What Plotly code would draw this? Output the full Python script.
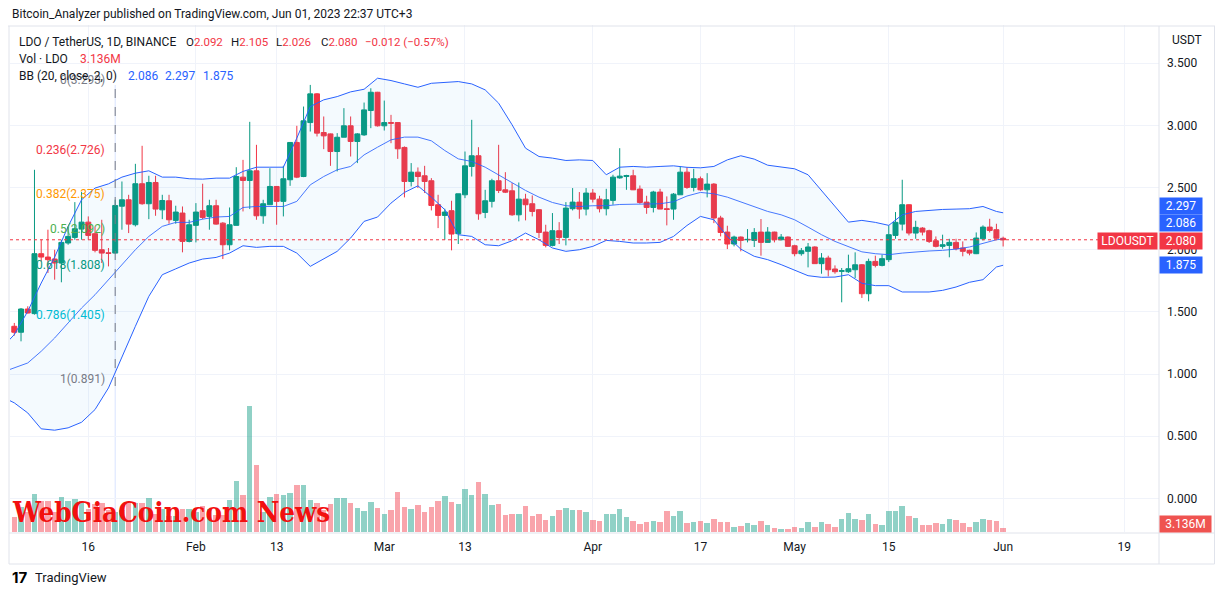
import pandas as pd
import plotly.graph_objects as go

# ---------------- data ----------------
dates = pd.date_range("2023-01-05", "2023-06-01", freq="D")

opens = [1.384, 1.336, 1.523, 1.486, 1.968, 1.941, 1.925, 1.893, 2.054, 2.099,
         2.166, 2.222, 2.129, 2.000, 1.975, 1.973, 2.350, 2.402, 2.201, 2.531,
         2.370, 2.541, 2.321, 2.394, 2.236, 2.295, 2.067, 2.196, 2.314, 2.268,
         2.354, 2.214, 2.040, 2.196, 2.584, 2.557, 2.635, 2.273, 2.362, 2.509,
         2.389, 2.563, 2.863, 2.589, 3.023, 3.254, 2.943, 2.932, 2.790, 2.905,
         2.997, 2.871, 2.924, 3.120, 3.267, 2.997, 3.023, 3.023, 2.823, 2.549,
         2.624, 2.595, 2.555, 2.362, 2.276, 2.314, 2.129, 2.442, 2.670, 2.756,
         2.300, 2.389, 2.555, 2.482, 2.474, 2.281, 2.407, 2.370, 2.322, 2.142,
         2.035, 2.153, 2.099, 2.330, 2.383, 2.327, 2.456, 2.407, 2.330, 2.397,
         2.578, 2.589, 2.595, 2.488, 2.383, 2.340, 2.464, 2.330, 2.327, 2.442,
         2.624, 2.501, 2.571, 2.482, 2.528, 2.255, 2.142, 2.046, 2.102, 2.080,
         2.075, 2.142, 2.059, 2.142, 2.080, 2.102, 2.032, 1.968, 1.987, 2.022,
         1.888, 1.933, 1.845, 1.826, 1.823, 1.839, 1.879, 1.646, 1.906, 1.874,
         1.920, 2.115, 2.206, 2.362, 2.134, 2.174, 2.153, 2.072, 2.027, 2.035,
         2.059, 2.014, 1.995, 1.968, 2.088, 2.182, 2.161, 2.092]
highs = [1.411, 1.531, 1.545, 2.643, 2.080, 2.161, 2.000, 2.080, 2.187, 2.383,
         2.464, 2.268, 2.187, 2.241, 2.014, 2.402, 2.549, 2.442, 2.691, 2.836,
         2.595, 2.595, 2.442, 2.442, 2.354, 2.348, 2.241, 2.375, 2.531, 2.402,
         2.402, 2.222, 2.340, 2.664, 2.723, 3.029, 2.844, 2.402, 2.656, 2.512,
         2.675, 2.866, 2.997, 3.152, 3.326, 3.260, 3.072, 2.935, 2.938, 3.139,
         3.072, 2.938, 3.184, 3.299, 3.270, 3.200, 3.085, 3.025, 2.831, 2.697,
         2.662, 2.675, 2.576, 2.442, 2.330, 2.394, 2.450, 2.790, 3.045, 2.825,
         2.482, 2.571, 2.844, 2.624, 2.536, 2.541, 2.450, 2.437, 2.325, 2.201,
         2.295, 2.222, 2.383, 2.496, 2.464, 2.496, 2.488, 2.434, 2.490, 2.603,
         2.817, 2.603, 2.643, 2.517, 2.434, 2.474, 2.490, 2.429, 2.456, 2.670,
         2.662, 2.651, 2.589, 2.616, 2.536, 2.273, 2.193, 2.113, 2.107, 2.166,
         2.174, 2.247, 2.182, 2.145, 2.126, 2.107, 2.040, 2.014, 2.054, 2.027,
         1.973, 1.952, 1.874, 1.853, 1.960, 1.979, 1.885, 1.928, 1.952, 1.960,
         2.196, 2.303, 2.563, 2.365, 2.233, 2.182, 2.161, 2.107, 2.121, 2.088,
         2.088, 2.067, 2.000, 2.139, 2.196, 2.249, 2.209, 2.105]
lows = [1.309, 1.263, 1.486, 1.478, 1.906, 1.813, 1.759, 1.738, 2.040, 2.080,
        2.080, 2.080, 1.979, 1.893, 1.866, 1.968, 2.161, 2.134, 2.187, 2.362,
        2.246, 2.273, 2.246, 2.209, 2.209, 1.979, 2.059, 2.059, 2.246, 2.161,
        2.201, 1.925, 1.995, 2.196, 2.308, 2.327, 2.241, 2.209, 2.362, 2.201,
        2.268, 2.514, 2.576, 2.584, 2.951, 2.911, 2.809, 2.675, 2.630, 2.905,
        2.750, 2.697, 2.916, 2.978, 2.991, 2.959, 2.857, 2.731, 2.421, 2.509,
        2.496, 2.456, 2.316, 2.174, 2.080, 1.995, 2.046, 2.415, 2.589, 2.241,
        2.254, 2.340, 2.456, 2.456, 2.273, 2.228, 2.236, 2.268, 2.094, 2.019,
        2.027, 2.046, 2.035, 2.316, 2.249, 2.276, 2.380, 2.300, 2.276, 2.362,
        2.571, 2.482, 2.480, 2.370, 2.289, 2.300, 2.327, 2.196, 2.241, 2.442,
        2.490, 2.469, 2.474, 2.421, 2.214, 2.107, 2.005, 2.027, 1.987, 2.059,
        2.022, 1.952, 2.059, 2.059, 2.075, 2.022, 1.947, 1.952, 1.858, 1.888,
        1.807, 1.786, 1.807, 1.577, 1.813, 1.772, 1.612, 1.585, 1.858, 1.866,
        1.901, 2.088, 2.155, 2.115, 2.088, 2.115, 2.054, 2.019, 2.008, 1.939,
        1.995, 1.947, 1.955, 1.965, 2.075, 2.139, 2.088, 2.026]
closes = [1.336, 1.523, 1.491, 1.968, 1.941, 1.920, 1.893, 2.059, 2.107, 2.169,
          2.222, 2.115, 1.995, 1.973, 1.971, 2.356, 2.402, 2.206, 2.531, 2.370,
          2.541, 2.327, 2.396, 2.241, 2.303, 2.067, 2.201, 2.303, 2.260, 2.354,
          2.206, 2.040, 2.201, 2.589, 2.557, 2.635, 2.273, 2.370, 2.509, 2.389,
          2.571, 2.863, 2.584, 3.037, 3.254, 2.938, 2.916, 2.790, 2.905, 2.997,
          2.871, 2.932, 3.125, 3.267, 2.997, 3.023, 3.018, 2.812, 2.549, 2.624,
          2.589, 2.549, 2.356, 2.276, 2.303, 2.126, 2.450, 2.675, 2.756, 2.289,
          2.394, 2.555, 2.477, 2.463, 2.281, 2.407, 2.362, 2.308, 2.139, 2.035,
          2.153, 2.099, 2.335, 2.383, 2.327, 2.456, 2.407, 2.330, 2.402, 2.584,
          2.592, 2.597, 2.482, 2.380, 2.340, 2.464, 2.327, 2.324, 2.447, 2.624,
          2.501, 2.571, 2.482, 2.528, 2.255, 2.139, 2.046, 2.102, 2.075, 2.083,
          2.139, 2.059, 2.142, 2.080, 2.102, 2.027, 1.968, 1.992, 2.022, 1.888,
          1.933, 1.839, 1.823, 1.831, 1.847, 1.879, 1.646, 1.906, 1.874, 1.928,
          2.121, 2.220, 2.362, 2.134, 2.180, 2.142, 2.067, 2.027, 2.040, 2.059,
          2.008, 1.987, 1.973, 2.094, 2.182, 2.155, 2.092, 2.080]
volumes_m = [11.8, 19.6, 15.7, 29.8, 24.3, 24.3, 15.7, 27.4, 24.3, 25.9,
             24.3, 18.0, 22.0, 22.7, 17.2, 15.7, 17.2, 23.5, 22.7, 22.7,
             26.7, 14.1, 18.0, 12.5, 12.5, 18.0, 18.0, 15.7, 20.4, 18.0,
             13.3, 13.3, 25.1, 40.0, 29.0, 98.8, 52.5, 15.7, 27.4, 29.8,
             29.0, 30.6, 36.8, 36.8, 25.1, 22.7, 17.2, 22.0, 26.7, 26.7,
             22.7, 18.8, 16.5, 23.5, 18.8, 14.1, 17.2, 31.4, 19.6, 18.0,
             21.2, 15.7, 19.6, 24.3, 28.2, 23.5, 22.0, 33.7, 29.0, 39.2,
             29.8, 21.2, 22.0, 13.3, 14.1, 14.1, 20.4, 12.5, 14.1, 9.4,
             12.5, 17.2, 18.8, 17.2, 17.2, 15.7, 9.4, 8.6, 14.1, 14.1,
             18.0, 11.8, 8.6, 6.3, 7.8, 8.6, 7.8, 16.5, 12.5, 16.5,
             7.1, 7.8, 8.6, 7.1, 10.2, 7.8, 7.8, 3.9, 4.7, 7.1,
             5.5, 8.6, 5.5, 3.1, 2.4, 2.4, 3.9, 3.1, 7.8, 3.9,
             7.8, 6.3, 3.9, 10.2, 14.9, 10.2, 9.4, 14.1, 6.3, 5.5,
             16.5, 16.5, 20.4, 12.5, 11.0, 5.5, 5.5, 7.1, 6.3, 10.2,
             9.4, 7.1, 3.9, 7.8, 10.2, 9.4, 8.6, 3.136]

# Bollinger Bands (20, close, 2), every second session
bb_dates = ([pd.Timestamp("2023-01-04")]
            + list(pd.date_range("2023-01-05", "2023-05-31", freq="2D"))
            + [pd.Timestamp("2023-06-01")])
bb_upper = [1.260, 1.317, 1.505, 1.732, 1.941, 2.187, 2.402, 2.496, 2.530, 2.584,
            2.616, 2.635, 2.584, 2.584, 2.571, 2.568, 2.576, 2.576, 2.630, 2.664,
            2.664, 2.664, 2.898, 3.152, 3.206, 3.232, 3.270, 3.291, 3.380, 3.361,
            3.334, 3.307, 3.339, 3.345, 3.353, 3.334, 3.286, 3.179, 3.005, 2.817,
            2.750, 2.737, 2.718, 2.723, 2.718, 2.603, 2.664, 2.670, 2.664, 2.670,
            2.675, 2.663, 2.659, 2.670, 2.723, 2.756, 2.729, 2.680, 2.664, 2.651,
            2.603, 2.477, 2.348, 2.222, 2.236, 2.220, 2.196, 2.281, 2.308, 2.319,
            2.324, 2.327, 2.330, 2.348, 2.308, 2.297]
bb_basis = [1.030, 1.049, 1.089, 1.183, 1.290, 1.411, 1.531, 1.638, 1.759, 1.880,
            2.000, 2.107, 2.188, 2.220, 2.220, 2.246, 2.263, 2.268, 2.340, 2.348,
            2.348, 2.348, 2.389, 2.522, 2.589, 2.643, 2.670, 2.763, 2.825, 2.884,
            2.906, 2.906, 2.876, 2.798, 2.731, 2.710, 2.664, 2.603, 2.536, 2.477,
            2.423, 2.380, 2.354, 2.348, 2.354, 2.354, 2.364, 2.367, 2.370, 2.370,
            2.386, 2.432, 2.461, 2.450, 2.423, 2.383, 2.343, 2.308, 2.281, 2.241,
            2.182, 2.121, 2.067, 2.022, 1.983, 1.968, 1.960, 1.973, 1.984, 1.990,
            1.995, 2.005, 2.022, 2.048, 2.080, 2.086]
bb_lower = [0.795, 0.768, 0.687, 0.559, 0.548, 0.567, 0.612, 0.714, 0.888, 1.143,
            1.384, 1.625, 1.799, 1.846, 1.893, 1.925, 1.938, 1.973, 2.032, 2.019,
            2.027, 2.027, 1.973, 1.866, 1.925, 1.987, 2.094, 2.228, 2.263, 2.375,
            2.461, 2.514, 2.423, 2.322, 2.121, 2.107, 2.040, 2.032, 2.072, 2.134,
            2.080, 2.014, 1.987, 2.000, 2.027, 2.075, 2.067, 2.054, 2.054, 2.059,
            2.107, 2.195, 2.268, 2.241, 2.107, 2.005, 1.947, 1.920, 1.880, 1.834,
            1.791, 1.778, 1.780, 1.799, 1.730, 1.711, 1.711, 1.660, 1.657, 1.660,
            1.673, 1.700, 1.738, 1.759, 1.861, 1.875]

# Fibonacci retracement drawn on the chart
fib_start = pd.Timestamp("2023-01-20")
fib_ratios = ["0", "0.236", "0.382", "0.5", "0.618", "0.786", "1"]
fib_prices = [3.293, 2.726, 2.375, 2.092, 1.808, 1.405, 0.891]
fib_colors = ["#787B86", "#F23645", "#FF9800", "#4CAF50", "#089981", "#00BCD4", "#787B86"]

x_tick_dates = ["2023-01-16", "2023-02-01", "2023-02-13", "2023-03-01", "2023-03-13",
                "2023-04-01", "2023-04-17", "2023-05-01", "2023-05-15", "2023-06-01",
                "2023-06-19"]
x_tick_text = ["16", "Feb", "13", "Mar", "13", "Apr", "17", "May", "15", "Jun", "19"]
y_ticks = [0.0, 0.5, 1.0, 1.5, 2.0, 2.5, 3.0, 3.5]

# ---------------- style ----------------
GREEN = "#089981"
RED = "#F23645"
BLUE = "#2962FF"
TXT = "#131722"
GRID = "#f0f3fa"
FRAME = "#e0e3eb"
FONT = "Roboto, Noto Sans, sans-serif"

W, H = 1225, 595
L, R, T, B = 10, 66, 25, 63
PW, PH = W - L - R, H - T - B


def px(xp):
    return (xp - L) / PW


def py(yp):
    return (H - B - yp) / PH


day = pd.Timedelta(days=1)
x_range = [dates[0] - 0.639 * day, dates[0] + 170.17 * day]
y_range = [-0.271, 3.808]
vol_range = [0, PH * 0.784]

fig = go.Figure()

vol_colors = ["rgba(8,153,129,0.45)" if c >= o else "rgba(242,54,69,0.45)"
              for o, c in zip(opens, closes)]
fig.add_trace(go.Bar(x=dates, y=volumes_m, marker=dict(color=vol_colors, line=dict(width=0)),
                     width=0.82 * 86400000, yaxis="y2", hoverinfo="skip"))

fig.add_trace(go.Scatter(x=bb_dates, y=bb_upper, mode="lines",
                         line=dict(color=BLUE, width=1), opacity=0.85, hoverinfo="skip"))
fig.add_trace(go.Scatter(x=bb_dates, y=bb_lower, mode="lines", fill="tonexty",
                         fillcolor="rgba(33,150,243,0.05)",
                         line=dict(color=BLUE, width=1), opacity=0.85, hoverinfo="skip"))
fig.add_trace(go.Scatter(x=bb_dates, y=bb_basis, mode="lines",
                         line=dict(color=BLUE, width=1), opacity=0.85, hoverinfo="skip"))

fig.add_trace(go.Candlestick(
    x=dates, open=opens, high=highs, low=lows, close=closes,
    increasing=dict(line=dict(color=GREEN, width=1), fillcolor=GREEN),
    decreasing=dict(line=dict(color=RED, width=1), fillcolor=RED),
    whiskerwidth=0, hoverinfo="skip"))

shapes = []
# fib vertical guides
shapes.append(dict(type="line", xref="x", yref="paper", x0=fib_start, x1=fib_start,
                   y0=0, y1=py(T + 60), line=dict(color="rgba(41,98,255,0.18)", width=1),
                   layer="below"))
shapes.append(dict(type="line", xref="x", yref="y", x0=fib_start, x1=fib_start,
                   y0=fib_prices[0], y1=fib_prices[-1],
                   line=dict(color="#787B86", width=1, dash="dash")))
# last price dotted line
shapes.append(dict(type="line", xref="paper", yref="y", x0=0, x1=px(1099),
                   y0=closes[-1], y1=closes[-1], line=dict(color=RED, width=1, dash="dot")))
# frame
for x0, y0, x1, y1 in [(8, 26, 1215, 26), (9, 26, 9, 564), (1214.5, 26, 1214.5, 564),
                       (9, 564, 1214.5, 564), (1159, 26, 1159, 564), (9, 533, 1214.5, 533)]:
    shapes.append(dict(type="line", xref="paper", yref="paper", x0=px(x0), x1=px(x1),
                       y0=py(y0), y1=py(y1), line=dict(color=FRAME, width=1)))

ann = []
# fib labels
for r, p, c in zip(fib_ratios, fib_prices, fib_colors):
    ann.append(dict(x=fib_start, y=p, xref="x", yref="y", text=f"{r}({p:.3f})",
                    xanchor="right", yanchor="bottom", xshift=-8, showarrow=False,
                    font=dict(size=12, color=c, family=FONT)))


def txt(xp, yp, text, color=TXT, size=12, anchor="left", family=FONT):
    ann.append(dict(x=px(xp), y=py(yp), xref="paper", yref="paper", text=text,
                    xanchor=anchor, yanchor="middle", showarrow=False,
                    font=dict(size=size, color=color, family=family)))


txt(10, 14, "Bitcoin_Analyzer published on TradingView.com, Jun 01, 2023 22:37 UTC+3", size=12)
txt(17, 42, "LDO / TetherUS, 1D, BINANCE")
txt(184, 42, f"O<span style='color:{RED}'>{opens[-1]:.3f}</span>", size=11.5)
txt(229, 42, f"H<span style='color:{RED}'>{highs[-1]:.3f}</span>", size=11.5)
txt(274, 42, f"L<span style='color:{RED}'>{lows[-1]:.3f}</span>", size=11.5)
txt(319, 42, f"C<span style='color:{RED}'>{closes[-1]:.3f}</span>", size=11.5)
chg = closes[-1] - closes[-2]
txt(363, 42, f"\u2212{abs(chg):.3f} (\u2212{abs(chg) / closes[-2] * 100:.2f}%)", color=RED,
    size=11.5)
txt(17, 59, "Vol \u00b7 LDO")
txt(78, 59, f"{volumes_m[-1]:.3f}M", color=RED)
txt(17, 76, "BB (20, close, 2, 0)")
txt(126, 76, f"{bb_basis[-1]:.3f}", color=BLUE)
txt(163, 76, f"{bb_upper[-1]:.3f}", color=BLUE)
txt(201, 76, f"{bb_lower[-1]:.3f}", color=BLUE)
txt(1170, 40, "USDT")
txt(10, 577, "<b>17</b>", size=15, color="#000000", family="Inter, Roboto, sans-serif")
txt(33, 577, "TradingView", size=13)
# watermark
txt(10, 512, "<b>WebGiaCoin.com News</b>", size=27.5, color="#f2100f",
    family="DejaVu Serif Condensed, DejaVu Serif, serif")


def tag(y, yref, text, bg, yshift=0, width=38, xp=1159, anchor="left"):
    ann.append(dict(x=px(xp), y=y, xref="paper", yref=yref, text=text, xanchor=anchor,
                    yanchor="middle", yshift=yshift, showarrow=False, bgcolor=bg,
                    width=width, height=12, borderpad=2, align="center",
                    font=dict(size=12, color="white", family=FONT)))


tag(bb_upper[-1], "y", f"{bb_upper[-1]:.3f}", BLUE, yshift=7)
tag(bb_basis[-1], "y", f"{bb_basis[-1]:.3f}", BLUE, yshift=16)
tag(closes[-1], "y", f"{closes[-1]:.3f}", RED, yshift=-1)
tag(closes[-1], "y", "LDOUSDT", RED, yshift=-1, width=55, xp=1158, anchor="right")
tag(bb_lower[-1], "y", f"{bb_lower[-1]:.3f}", BLUE)
tag(volumes_m[-1], "y2", f"{volumes_m[-1]:.3f}M", "#EF5350", yshift=4, width=47)

fig.update_layout(
    width=W, height=H, margin=dict(l=L, r=R, t=T, b=B),
    paper_bgcolor="white", plot_bgcolor="white", showlegend=False,
    boxgap=0.26, boxgroupgap=0, bargap=0,
    font=dict(family=FONT, color=TXT, size=12),
    xaxis=dict(type="date", range=x_range, rangeslider=dict(visible=False),
               tickvals=x_tick_dates, ticktext=x_tick_text, showgrid=True,
               gridcolor=GRID, gridwidth=1, zeroline=False, showline=False, ticks="",
               tickfont=dict(size=12, color=TXT, family=FONT), ticklabelstandoff=6,
               fixedrange=True),
    yaxis=dict(side="right", range=y_range, tickvals=y_ticks, tickformat=".3f",
               showgrid=True, gridcolor=GRID, gridwidth=1, zeroline=False, showline=False,
               ticks="", tickfont=dict(size=12, color=TXT, family=FONT),
               ticklabelstandoff=7, fixedrange=True),
    yaxis2=dict(overlaying="y", range=vol_range, visible=False, showgrid=False,
                fixedrange=True),
    shapes=shapes, annotations=ann,
)

fig.write_html("out.html", config={"displayModeBar": False},
               post_script="document.body.style.margin='0';document.body.style.overflow='hidden';")
